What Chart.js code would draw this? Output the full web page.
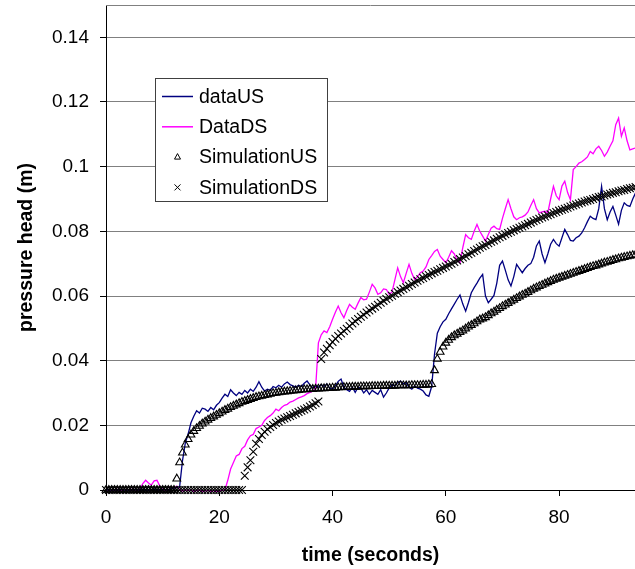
<!DOCTYPE html>
<html>
<head>
<meta charset="utf-8">
<script src="https://cdn.jsdelivr.net/npm/chart.js@4.4.0/dist/chart.umd.min.js"></script>
<style>
  html, body { margin: 0; padding: 0; background: #ffffff; }
  #wrap { width: 635px; height: 569px; }
</style>
</head>
<body>
<div id="wrap"><canvas id="pressureChart" width="635" height="569"></canvas></div>
<script>
// sample times (s), one row = 5 seconds
const timeSec = [
  0, 0.5, 1, 1.5, 2, 2.5, 3, 3.5, 4, 4.5,
  5, 5.5, 6, 6.5, 7, 7.5, 8, 8.5, 9, 9.5,
  10, 10.5, 11, 11.5, 12, 12.5, 13, 13.5, 14, 14.5,
  15, 15.5, 16, 16.5, 17, 17.5, 18, 18.5, 19, 19.5,
  20, 20.5, 21, 21.5, 22, 22.5, 23, 23.5, 24, 24.5,
  25, 25.5, 26, 26.5, 27, 27.5, 28, 28.5, 29, 29.5,
  30, 30.5, 31, 31.5, 32, 32.5, 33, 33.5, 34, 34.5,
  35, 35.5, 36, 36.5, 37, 37.5, 38, 38.5, 39, 39.5,
  40, 40.5, 41, 41.5, 42, 42.5, 43, 43.5, 44, 44.5,
  45, 45.5, 46, 46.5, 47, 47.5, 48, 48.5, 49, 49.5,
  50, 50.5, 51, 51.5, 52, 52.5, 53, 53.5, 54, 54.5,
  55, 55.5, 56, 56.5, 57, 57.5, 58, 58.5, 59, 59.5,
  60, 60.5, 61, 61.5, 62, 62.5, 63, 63.5, 64, 64.5,
  65, 65.5, 66, 66.5, 67, 67.5, 68, 68.5, 69, 69.5,
  70, 70.5, 71, 71.5, 72, 72.5, 73, 73.5, 74, 74.5,
  75, 75.5, 76, 76.5, 77, 77.5, 78, 78.5, 79, 79.5,
  80, 80.5, 81, 81.5, 82, 82.5, 83, 83.5, 84, 84.5,
  85, 85.5, 86, 86.5, 87, 87.5, 88, 88.5, 89, 89.5,
  90, 90.5, 91, 91.5, 92, 92.5, 93, 93.5
];

// measured upstream head (m)
const dataUS = [
  .0000, .0002, -.0001, .0001, .0000, .0002, .0001, -.0001, .0000, .0001,
  .0002, .0000, .0001, .0002, .0000, -.0001, .0001, .0003, .0000, .0001,
  .0002, .0001, .0000, .0004, .0006, .0008, .0010, .0090, .0145, .0173,
  .0208, .0228, .0245, .0238, .0253, .0250, .0243, .0255, .0248, .0262,
  .0270, .0284, .0296, .0289, .0310, .0300, .0292, .0302, .0296, .0308,
  .0300, .0312, .0305, .0318, .0335, .0318, .0306, .0312, .0308, .0320,
  .0316, .0324, .0318, .0328, .0334, .0326, .0322, .0318, .0324, .0320,
  .0330, .0337, .0325, .0316, .0322, .0318, .0326, .0320, .0328, .0315,
  .0312, .0322, .0336, .0343, .0318, .0310, .0305, .0318, .0302, .0318,
  .0315, .0300, .0310, .0296, .0308, .0302, .0296, .0310, .0287, .0300,
  .0316, .0326, .0322, .0332, .0337, .0328, .0332, .0318, .0312, .0322,
  .0315, .0312, .0306, .0294, .0290, .0320, .0420, .0485, .0505, .0520,
  .0528, .0545, .0560, .0575, .0590, .0603, .0575, .0553, .0580, .0610,
  .0626, .0640, .0655, .0667, .0600, .0579, .0590, .0602, .0640, .0695,
  .0708, .0680, .0650, .0631, .0660, .0698, .0685, .0672, .0685, .0695,
  .0700, .0720, .0755, .0770, .0730, .0703, .0730, .0760, .0775, .0762,
  .0754, .0780, .0806, .0790, .0772, .0770, .0780, .0785, .0795, .0811,
  .0830, .0847, .0840, .0836, .0870, .0939, .0870, .0836, .0860, .0877,
  .0850, .0822, .0865, .0888, .0880, .0877, .0900, .0919
];

// measured downstream head (m)
const dataDS = [
  .0000, .0001, -.0001, .0000, .0002, .0000, -.0001, .0001, .0000, .0002,
  .0001, .0000, .0003, .0020, .0030, .0022, .0015, .0028, .0030, .0012,
  .0002, -.0002, .0008, .0010, .0004, .0012, .0002, -.0003, .0000, -.0002,
  .0001, -.0004, -.0002, .0000, -.0005, -.0003, -.0001, -.0004, -.0002, -.0005,
  -.0003, -.0001, .0000, .0030, .0065, .0085, .0105, .0110, .0128, .0135,
  .0155, .0168, .0172, .0190, .0195, .0200, .0215, .0224, .0230, .0238,
  .0250, .0245, .0255, .0262, .0265, .0272, .0275, .0280, .0285, .0288,
  .0292, .0298, .0302, .0306, .0312, .0455, .0480, .0492, .0487, .0505,
  .0528, .0550, .0569, .0548, .0533, .0555, .0574, .0565, .0559, .0578,
  .0595, .0588, .0590, .0612, .0636, .0625, .0605, .0610, .0622, .0620,
  .0605, .0612, .0650, .0687, .0660, .0641, .0670, .0698, .0670, .0651,
  .0660, .0672, .0677, .0690, .0713, .0725, .0738, .0744, .0723, .0713,
  .0703, .0720, .0740, .0730, .0710, .0703, .0750, .0790, .0780, .0775,
  .0800, .0821, .0800, .0785, .0770, .0790, .0810, .0816, .0808, .0806,
  .0840, .0870, .0898, .0870, .0845, .0836, .0842, .0845, .0850, .0860,
  .0880, .0898, .0870, .0857, .0860, .0862, .0857, .0900, .0939, .0910,
  .0898, .0940, .0955, .0920, .0898, .0991, .1000, .1011, .1015, .1022,
  .1030, .1047, .1040, .1055, .1063, .1050, .1032, .1045, .1063, .1080,
  .1130, .1150, .1094, .1120, .1080, .1052, .1055, .1058
];

// simulated upstream head (m)
const simUS = [
  0, 0, 0, 0, 0, 0, 0, 0, 0, 0,
  0, 0, 0, 0, 0, 0, 0, 0, 0, 0,
  0, 0, 0, 0, 0, .0035, .0085, .0115, .0140, .0157,
  .0171, .0182, .0191, .0198, .0205, .0211, .0217, .0222, .0227, .0232,
  .0237, .0242, .0247, .0251, .0256, .0260, .0264, .0268, .0272, .0275,
  .0278, .0281, .0284, .0287, .0289, .0291, .0293, .0295, .0297, .0299,
  .0300, .0302, .0303, .0304, .0305, .0306, .0307, .0308, .0309, .0310,
  .0311, .0311, .0312, .0312, .0313, .0313, .0314, .0314, .0315, .0315,
  .0316, .0316, .0317, .0317, .0318, .0318, .0318, .0319, .0319, .0319,
  .0320, .0320, .0320, .0320, .0321, .0321, .0321, .0321, .0322, .0322,
  .0322, .0322, .0322, .0323, .0323, .0323, .0323, .0323, .0324, .0324,
  .0324, .0324, .0325, .0325, .0326, .0327, .0370, .0405, .0427, .0443,
  .0455, .0464, .0472, .0478, .0483, .0488, .0493, .0499, .0505, .0510,
  .0515, .0521, .0527, .0530, .0534, .0540, .0546, .0551, .0557, .0562,
  .0568, .0573, .0578, .0583, .0588, .0593, .0598, .0603, .0607, .0612,
  .0617, .0622, .0626, .0630, .0634, .0638, .0642, .0646, .0650, .0653,
  .0656, .0659, .0662, .0665, .0668, .0671, .0674, .0677, .0680, .0683,
  .0686, .0689, .0692, .0694, .0697, .0700, .0703, .0705, .0708, .0711,
  .0713, .0716, .0718, .0720, .0722, .0724, .0726, .0728
];

// simulated downstream head (m)
const simDS = [
  0, 0, 0, 0, 0, 0, 0, 0, 0, 0,
  0, 0, 0, 0, 0, 0, 0, 0, 0, 0,
  0, 0, 0, 0, 0, 0, 0, 0, 0, 0,
  0, 0, 0, 0, 0, 0, 0, 0, 0, 0,
  0, 0, 0, 0, 0, 0, 0, 0, 0, .0044,
  .0070, .0092, .0118, .0143, .0158, .0170, .0180, .0188, .0195, .0201,
  .0207, .0212, .0217, .0221, .0225, .0229, .0233, .0237, .0241, .0245,
  .0249, .0253, .0258, .0263, .0268, .0274, .0405, .0425, .0437, .0448,
  .0458, .0468, .0476, .0484, .0492, .0499, .0507, .0515, .0522, .0529,
  .0536, .0542, .0549, .0555, .0561, .0567, .0573, .0579, .0585, .0591,
  .0596, .0601, .0607, .0612, .0617, .0622, .0627, .0632, .0637, .0642,
  .0647, .0652, .0656, .0661, .0665, .0670, .0674, .0678, .0683, .0687,
  .0691, .0696, .0700, .0705, .0710, .0714, .0719, .0724, .0729, .0734,
  .0739, .0744, .0749, .0754, .0758, .0763, .0768, .0772, .0777, .0782,
  .0786, .0791, .0795, .0799, .0803, .0807, .0811, .0815, .0819, .0823,
  .0827, .0831, .0835, .0839, .0843, .0846, .0850, .0853, .0857, .0860,
  .0864, .0867, .0870, .0873, .0877, .0880, .0883, .0886, .0889, .0892,
  .0895, .0897, .0900, .0903, .0906, .0908, .0911, .0914, .0916, .0919,
  .0921, .0924, .0926, .0928, .0931, .0933, .0935, .0937
];

const seriesNames = ['dataUS', 'DataDS', 'SimulationUS', 'SimulationDS'];
const xTickValues = [0, 20, 40, 60, 80];
const yTickValues = [0, 0.02, 0.04, 0.06, 0.08, 0.1, 0.12, 0.14];

const colors = {
    us: '#000080',
    ds: '#ff00ff',
    marker: '#000000',
    grid: '#808080',
    axis: '#000000',
    text: '#000000'
};

const fontFamily = "'Liberation Sans', Arial, sans-serif";

function toPoints(values) {
    return values.map((v, i) => ({ x: timeSec[i], y: v }));
}

// no automatic label padding, the box sizes are fixed
function noPadding(scale) {
    scale.paddingTop = 0;
    scale.paddingBottom = 0;
    scale.paddingLeft = 0;
    scale.paddingRight = 0;
}

// top border of the plot area + the boxed legend Excel-style
const framePlugin = {
    id: 'frame',
    beforeDatasetsDraw(chart) {
        const { ctx, chartArea } = chart;
        ctx.save();
        ctx.strokeStyle = colors.grid;
        ctx.lineWidth = 1;
        ctx.beginPath();
        ctx.moveTo(chartArea.left, Math.round(chartArea.top) + 0.5);
        ctx.lineTo(chartArea.right, Math.round(chartArea.top) + 0.5);
        ctx.stroke();
        ctx.restore();
    },
    afterDraw(chart) {
        const ctx = chart.ctx;
        const box = { x: 155.5, y: 78.5, w: 172, h: 123 };
        ctx.save();
        ctx.fillStyle = '#ffffff';
        ctx.strokeStyle = '#404040';
        ctx.lineWidth = 1;
        ctx.fillRect(box.x, box.y, box.w, box.h);
        ctx.strokeRect(box.x, box.y, box.w, box.h);

        ctx.font = '19.5px ' + fontFamily;
        ctx.textBaseline = 'middle';
        ctx.textAlign = 'left';

        chart.data.datasets.forEach((ds, i) => {
            const y = 96.5 + i * 30.3;
            if (ds.showLine) {
                ctx.strokeStyle = ds.borderColor;
                ctx.lineWidth = 1.5;
                ctx.beginPath();
                ctx.moveTo(162, y);
                ctx.lineTo(193, y);
                ctx.stroke();
            } else if (ds.pointStyle === 'triangle') {
                ctx.strokeStyle = colors.marker;
                ctx.lineWidth = 1;
                ctx.beginPath();
                ctx.moveTo(177.5, y - 3.5);
                ctx.lineTo(180.5, y + 2);
                ctx.lineTo(174.5, y + 2);
                ctx.closePath();
                ctx.stroke();
            } else {
                ctx.strokeStyle = colors.marker;
                ctx.lineWidth = 1;
                ctx.beginPath();
                ctx.moveTo(174.5, y - 3);
                ctx.lineTo(180.5, y + 3);
                ctx.moveTo(180.5, y - 3);
                ctx.lineTo(174.5, y + 3);
                ctx.stroke();
            }
            ctx.fillStyle = colors.text;
            ctx.fillText(ds.label, 199, y + 1);
        });
        ctx.restore();
    }
};

const ctx = document.getElementById('pressureChart').getContext('2d');

new Chart(ctx, {
    type: 'scatter',
    data: {
        datasets: [
            {
                label: seriesNames[0],
                data: toPoints(dataUS),
                showLine: true,
                borderColor: colors.us,
                borderWidth: 1.3,
                pointRadius: 0,
                order: 3,
                clip: 4
            },
            {
                label: seriesNames[1],
                data: toPoints(dataDS),
                showLine: true,
                borderColor: colors.ds,
                borderWidth: 1.3,
                pointRadius: 0,
                order: 4,
                clip: 4
            },
            {
                label: seriesNames[2],
                data: toPoints(simUS),
                showLine: false,
                pointStyle: 'triangle',
                pointRadius: 4.5,
                pointBorderWidth: 1.1,
                pointBorderColor: colors.marker,
                pointBackgroundColor: 'rgba(0,0,0,0)',
                order: 2,
                clip: 6
            },
            {
                label: seriesNames[3],
                data: toPoints(simDS),
                showLine: false,
                pointStyle: 'crossRot',
                pointRadius: 5.5,
                pointBorderWidth: 1.1,
                pointBorderColor: colors.marker,
                order: 1,
                clip: 6
            }
        ]
    },
    options: {
        responsive: false,
        animation: false,
        devicePixelRatio: 1,
        layout: { autoPadding: false, padding: { top: 5, right: 0, bottom: 0, left: 0 } },
        plugins: {
            legend: { display: false },
            tooltip: { enabled: false }
        },
        scales: {
            x: {
                type: 'linear',
                min: 0,
                max: 93.4,
                afterFit: scale => { scale.height = 79; noPadding(scale); },
                afterBuildTicks: scale => {
                    scale.ticks = xTickValues.map(v => ({ value: v }));
                },
                border: { color: colors.axis, width: 1 },
                grid: {
                    display: true,
                    drawOnChartArea: false,
                    drawTicks: true,
                    tickLength: 6,
                    tickColor: colors.axis
                },
                ticks: {
                    color: colors.text,
                    padding: 10,
                    maxRotation: 0,
                    font: { family: fontFamily, size: 19 },
                    callback: value => String(value)
                },
                title: {
                    display: true,
                    text: 'time (seconds)',
                    color: colors.text,
                    font: { family: fontFamily, size: 19.5, weight: 'bold' },
                    padding: { top: 0, bottom: 2 }
                }
            },
            y: {
                min: 0,
                max: 0.15,
                afterFit: scale => { scale.width = 106; noPadding(scale); },
                afterBuildTicks: scale => {
                    scale.ticks = yTickValues.map(v => ({ value: v }));
                },
                border: { color: colors.axis, width: 1 },
                grid: {
                    color: colors.grid,
                    lineWidth: 1,
                    drawTicks: true,
                    tickLength: 6,
                    tickColor: colors.axis
                },
                ticks: {
                    color: colors.text,
                    padding: 11,
                    font: { family: fontFamily, size: 19 },
                    callback: value => String(Number(value.toFixed(2)))
                },
                title: {
                    display: true,
                    text: 'pressure head (m)',
                    color: colors.text,
                    font: { family: fontFamily, size: 19.5, weight: 'bold' },
                    padding: { top: 15, bottom: 0 }
                }
            }
        }
    },
    plugins: [framePlugin]
});
</script>
</body>
</html>
